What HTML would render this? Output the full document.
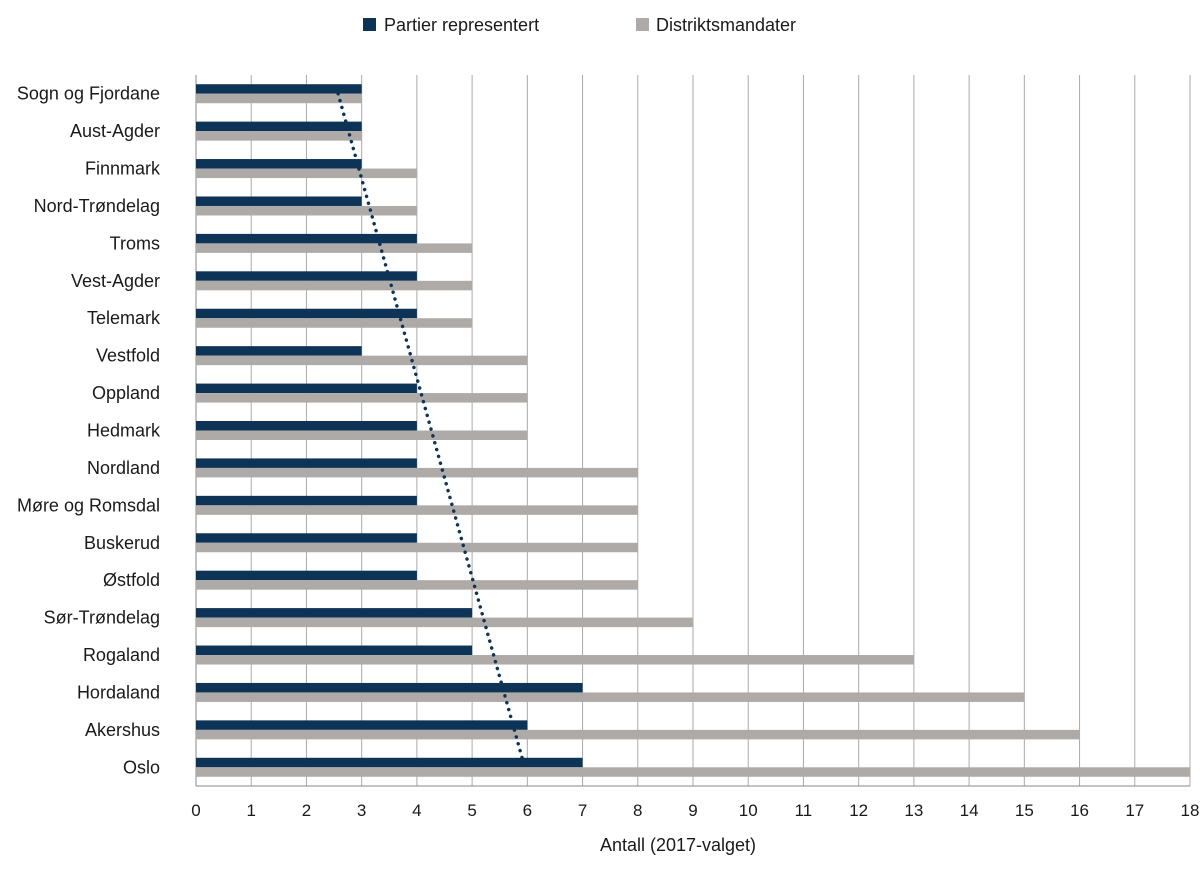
<!DOCTYPE html>
<html><head><meta charset="utf-8"><style>
html,body{margin:0;padding:0;background:#fff;}
svg text{font-family:"Liberation Sans",sans-serif;fill:#1a1a1a;}
</style></head><body>
<svg id="chart" width="1200" height="873" viewBox="0 0 1200 873" xmlns="http://www.w3.org/2000/svg">
<g id="legend">
 <rect x="363" y="18" width="13" height="13" fill="#0d3356"/>
 <text x="384" y="31" font-size="18">Partier representert</text>
 <rect x="636" y="18" width="13" height="13" fill="#aeaaa7"/>
 <text x="656" y="31" font-size="18">Distriktsmandater</text>
</g>
<g id="grid"></g><g id="bars"></g><g id="trend"></g><g id="axes"></g>
<text x="678" y="851" font-size="18" text-anchor="middle">Antall (2017-valget)</text>
</svg>
<script>
const categories=["Sogn og Fjordane","Aust-Agder","Finnmark","Nord-Trøndelag","Troms","Vest-Agder","Telemark","Vestfold","Oppland","Hedmark","Nordland","Møre og Romsdal","Buskerud","Østfold","Sør-Trøndelag","Rogaland","Hordaland","Akershus","Oslo"];
const partier=[3,3,3,3,4,4,4,3,4,4,4,4,4,4,5,5,7,6,7];
const distrikt=[3,3,4,4,5,5,5,6,6,6,8,8,8,8,9,13,15,16,18];
const xTicks=[0,1,2,3,4,5,6,7,8,9,10,11,12,13,14,15,16,17,18];
const NS="http://www.w3.org/2000/svg";
const x0=196,x1=1190,yTop=75,yBot=786,xMax=18;
const band=(yBot-yTop)/categories.length;
const xs=v=>x0+(v/xMax)*(x1-x0);
const yc=i=>yTop+band*(i+0.5);
function mk(tag,attrs,parent){const e=document.createElementNS(NS,tag);for(const k in attrs)e.setAttribute(k,attrs[k]);document.getElementById(parent).appendChild(e);return e;}
xTicks.forEach(t=>{
 const l=mk('line',{x1:xs(t),x2:xs(t),y1:yTop,y2:yBot,stroke:t===0?'#888':'#aaa','stroke-width':1},'grid');
 
 
 const tx=mk('text',{x:xs(t),y:816,'font-size':17,'text-anchor':'middle'},'axes');tx.textContent=t;
 
 
});
const bl=mk('line',{x1:x0,x2:x1,y1:yBot,y2:yBot,stroke:'#888'},'axes');


const bh=9.5;
categories.forEach((c,i)=>{
 const r1=mk('rect',{x:x0,y:yc(i)-bh,width:xs(partier[i])-x0,height:bh,fill:'#0d3356'},'bars');
 
 
 const r2=mk('rect',{x:x0,y:yc(i),width:xs(distrikt[i])-x0,height:bh,fill:'#aeaaa7'},'bars');
 
 
 const t=mk('text',{x:160,y:yc(i)+6,'font-size':18,'text-anchor':'end'},'axes');t.textContent=c;
 
 
});
// linear trend of partier
const n=partier.length;let mi=(n-1)/2,my=partier.reduce((a,b)=>a+b,0)/n,num=0,den=0;
partier.forEach((y,i)=>{num+=(i-mi)*(y-my);den+=(i-mi)*(i-mi);});
const sl=num/den,ic=my-sl*mi;
const tl=mk('line',{x1:xs(ic),y1:yc(0),x2:xs(ic+sl*(n-1)),y2:yc(n-1),stroke:'#0d3356','stroke-width':3.5,'stroke-dasharray':'0.1 7','stroke-linecap':'round'},'trend');


</script>
</body></html>
